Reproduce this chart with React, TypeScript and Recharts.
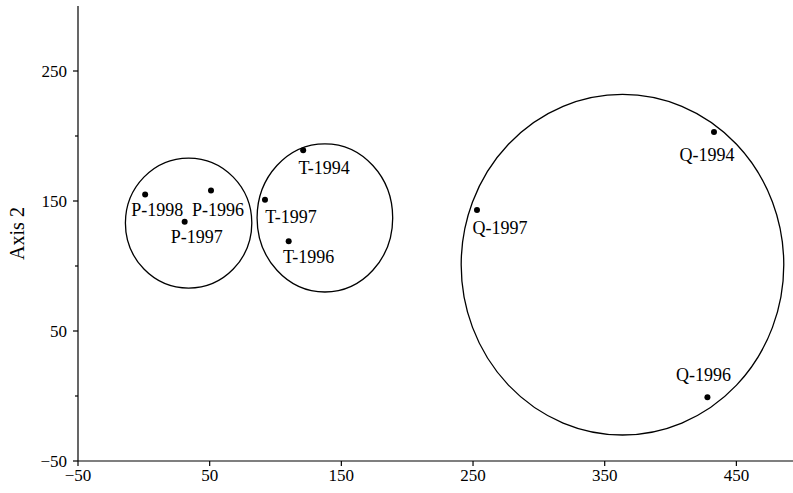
import { ScatterChart, Scatter, XAxis, YAxis, ReferenceArea } from "recharts";

const pointNames = ["P-1998", "P-1996", "P-1997", "T-1994", "T-1997", "T-1996", "Q-1997", "Q-1994", "Q-1996"];
const axis1Values = [1, 51, 31, 121, 92, 110, 253, 433, 428];
const axis2Values = [155, 158, 134, 189, 151, 119, 143, 203, -1];

// circles drawn around each group (centre and half-widths in axis units)
const groupNames = ["P", "T", "Q"];
const groupCenter1 = [34, 137.5, 363.5];
const groupCenter2 = [133, 137, 101];
const groupHalf1 = [48, 51.5, 122.5];
const groupHalf2 = [50, 57, 131];

const xTicks = [-50, 50, 150, 250, 350, 450];
const yTicks = [-50, 0, 50, 100, 150, 200, 250];
const yLabelled = [-50, 50, 150, 250];

// where each label sits relative to its dot (px)
const labelOffset: Record<string, [number, number]> = {
  "P-1998": [12, 15],
  "P-1996": [7, 19],
  "P-1997": [12, 15],
  "T-1994": [21, 18],
  "T-1997": [26, 17],
  "T-1996": [20, 16],
  "Q-1997": [23, 18],
  "Q-1994": [-7, 23],
  "Q-1996": [-4, -22],
};

const FONT = "'Liberation Serif', 'Times New Roman', serif";

const data = pointNames.map((name, i) => ({ name, a1: axis1Values[i], a2: axis2Values[i] }));

const fmt = (v: number) => (v < 0 ? `\u2212${Math.abs(v)}` : `${v}`);

function YTick(props: any) {
  const { x, y, payload } = props;
  const major = yLabelled.includes(payload.value);
  const axisX = x + 11;
  return (
    <g>
      <line x1={axisX - (major ? 5 : 3)} x2={axisX} y1={y} y2={y} stroke="#000" strokeWidth={1.2} />
      {major && (
        <text x={x} y={y} textAnchor="end" dominantBaseline="central" fontFamily={FONT} fontSize={17} fill="#000">
          {fmt(payload.value)}
        </text>
      )}
    </g>
  );
}

function PointShape(props: any) {
  const { cx, cy, payload } = props;
  const [dx, dy] = labelOffset[payload.name] || [0, 16];
  return (
    <g>
      <circle cx={cx} cy={cy} r={3} fill="#000" />
      <text
        x={cx + dx}
        y={cy + dy}
        textAnchor="middle"
        dominantBaseline="central"
        fontFamily={FONT}
        fontSize={18}
        fill="#000"
      >
        {payload.name}
      </text>
    </g>
  );
}

function EllipseShape(props: any) {
  const { x, y, width, height } = props;
  return (
    <ellipse
      cx={x + width / 2}
      cy={y + height / 2}
      rx={width / 2}
      ry={height / 2}
      fill="none"
      stroke="#000"
      strokeWidth={1.3}
    />
  );
}

export default function App() {
  return (
    <div style={{ position: "absolute", left: 0, top: 0, background: "#fff" }}>
      <ScatterChart width={793} height={493} margin={{ top: 6, right: 0, bottom: 0, left: 0 }}>
        <XAxis
          type="number"
          dataKey="a1"
          domain={[-50, 493]}
          ticks={xTicks}
          allowDataOverflow
          height={32}
          stroke="#000"
          strokeWidth={1.2}
          tickSize={5}
          tickMargin={3}
          tickFormatter={fmt}
          tick={{ fill: "#000", fontFamily: FONT, fontSize: 17 }}
        />
        <YAxis
          type="number"
          dataKey="a2"
          domain={[-50, 300]}
          ticks={yTicks}
          allowDataOverflow
          width={78}
          stroke="#000"
          strokeWidth={1.2}
          tickLine={false}
          tickSize={5}
          tickMargin={6}
          tick={<YTick />}
          label={{
            value: "Axis 2",
            angle: -90,
            position: "insideLeft",
            offset: 17,
            style: { textAnchor: "middle", fontFamily: FONT, fontSize: 20, fill: "#000" },
          }}
        />
        {groupNames.map((g, i) => (
          <ReferenceArea
            key={g}
            x1={groupCenter1[i] - groupHalf1[i]}
            x2={groupCenter1[i] + groupHalf1[i]}
            y1={groupCenter2[i] - groupHalf2[i]}
            y2={groupCenter2[i] + groupHalf2[i]}
            ifOverflow="visible"
            shape={EllipseShape}
          />
        ))}
        <Scatter data={data} shape={PointShape} isAnimationActive={false} />
      </ScatterChart>
    </div>
  );
}
